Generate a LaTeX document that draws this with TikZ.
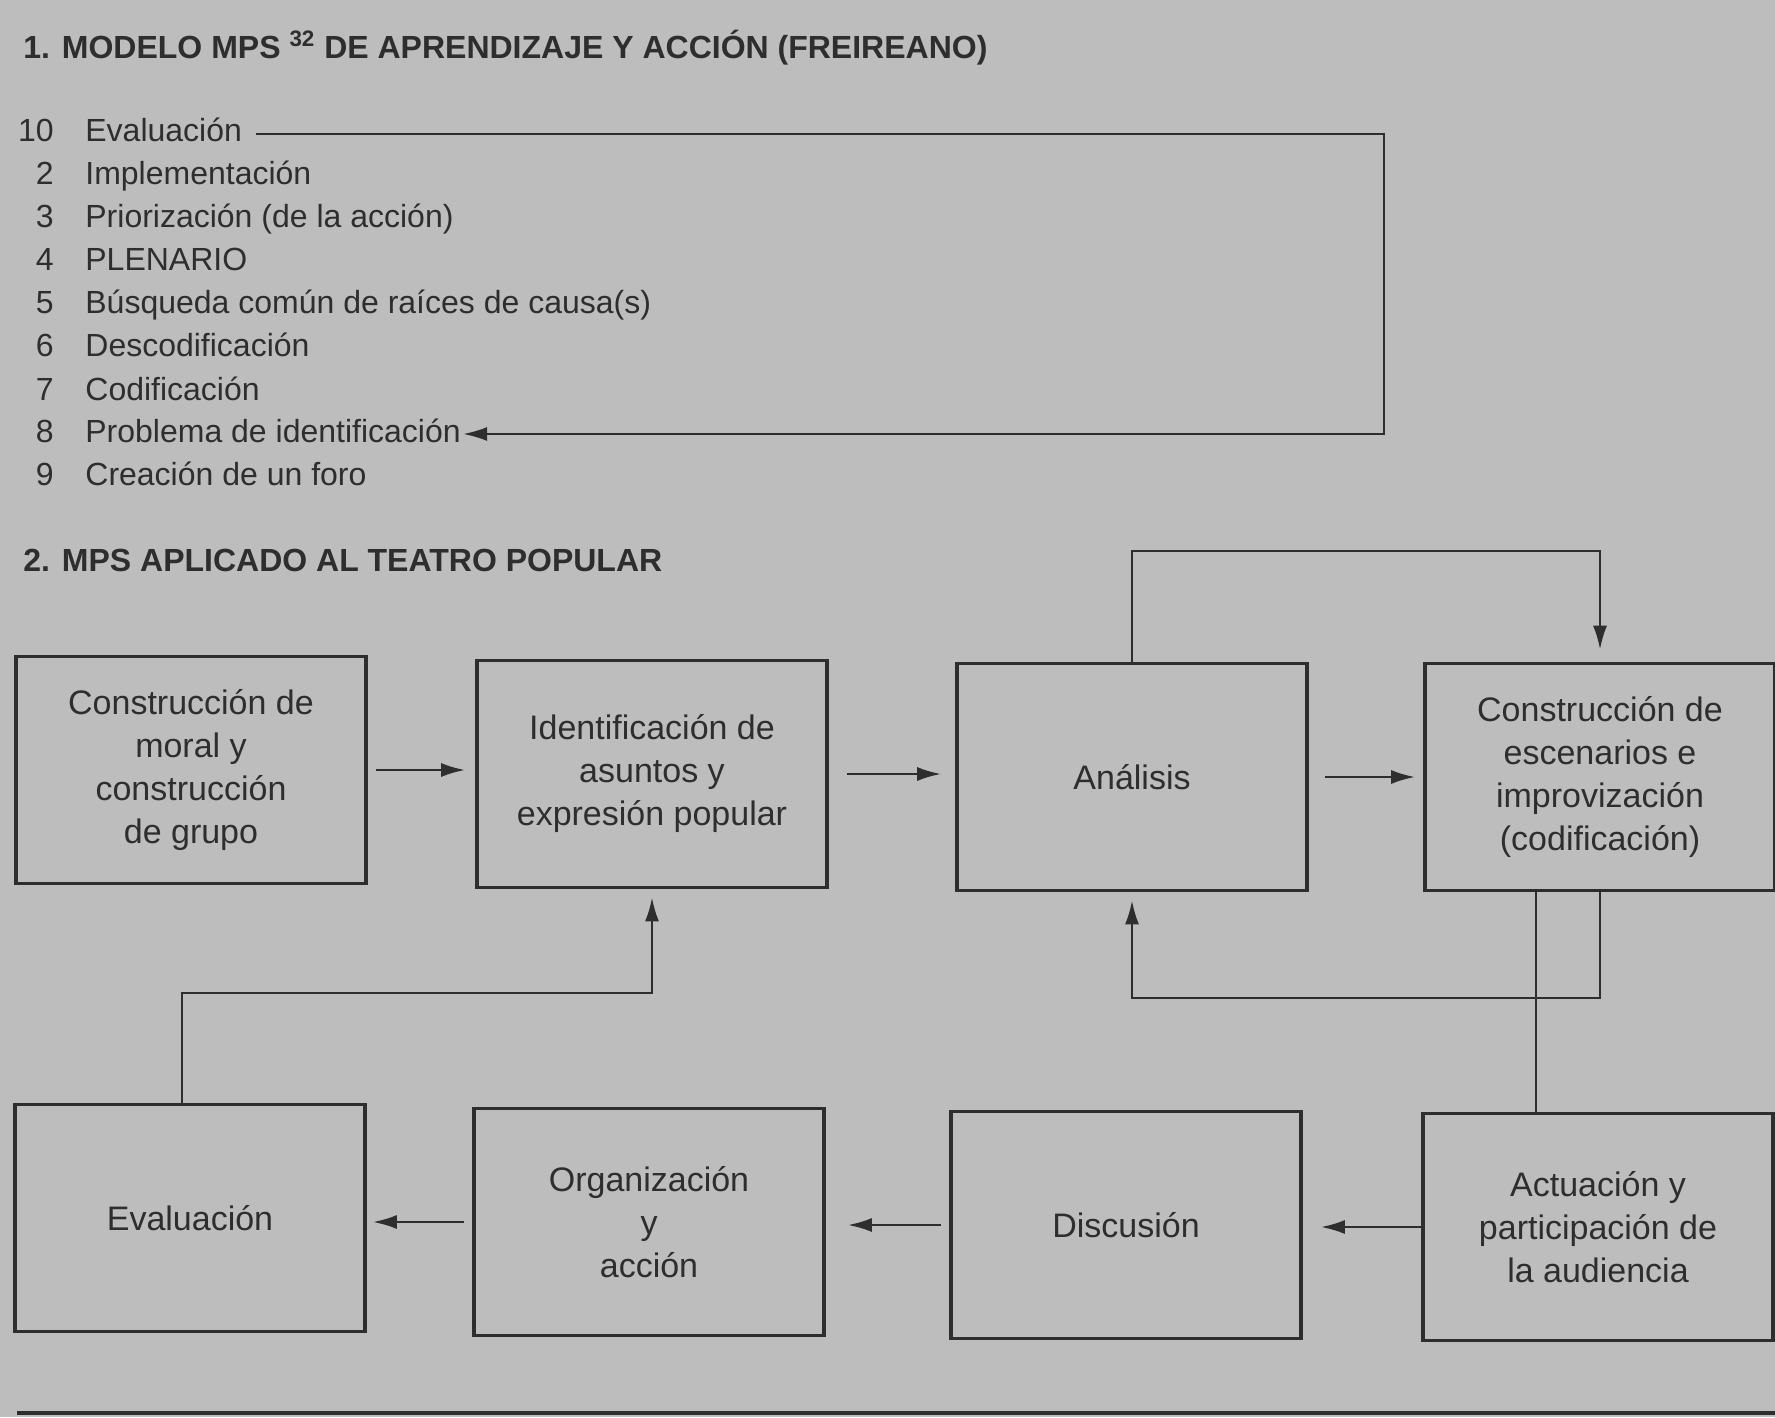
\documentclass[tikz,border=0pt]{standalone}
\usepackage{fontspec}
\setmainfont{Liberation Sans}
\usetikzlibrary{arrows.meta,positioning}
\definecolor{ink}{HTML}{2E2E2E}
\definecolor{paper}{HTML}{BDBDBD}
\tikzset{
  flow/.style={
    -{Latex[length=12pt,width=7pt]},
    draw=ink,
    line width=1.3pt
  },
  link/.style={
    draw=ink,
    line width=1.3pt
  },
  block/.style={
    rectangle,
    draw=ink,
    line width=1.8pt,
    align=center,
    text=ink,
    minimum width=175pt,
    minimum height=113.5pt,
    font=\fontsize{17}{21.5}\selectfont
  },
  title/.style={
    anchor=west,
    inner sep=0pt,
    text=ink,
    font=\bfseries\fontsize{16}{19}\selectfont
  },
  listnum/.style={
    anchor=east,
    inner sep=0pt,
    text=ink,
    text height=11.5pt,
    text depth=3.5pt,
    font=\fontsize{16}{19}\selectfont
  },
  listitem/.style={
    listnum,
    anchor=west
  }
}

\begin{document}
\begin{tikzpicture}[x=0.5pt,y=-0.5pt]
  \path[use as bounding box, fill=paper] (0,0) rectangle (1775,1417);

  % 1. modelo
  \node[title] (title1) at (23,48) {1. MODELO MPS \textsuperscript{32} DE APRENDIZAJE Y ACCIÓN (FREIREANO)};

  \node[listnum] (n10) at (54,134) {10};
  \node[listitem] (ev10) at (85,134) {Evaluación};
  \node[listnum] (n2) at (54,177) {2};
  \node[listitem] (imp2) at (85,177) {Implementación};
  \node[listnum] (n3) at (54,220) {3};
  \node[listitem] (prio3) at (85,220) {Priorización (de la acción)};
  \node[listnum] (n4) at (54,263) {4};
  \node[listitem] (plen4) at (85,263) {PLENARIO};
  \node[listnum] (n5) at (54,306) {5};
  \node[listitem] (busq5) at (85,306) {Búsqueda común de raíces de causa(s)};
  \node[listnum] (n6) at (54,349) {6};
  \node[listitem] (desc6) at (85,349) {Descodificación};
  \node[listnum] (n7) at (54,392) {7};
  \node[listitem] (cod7) at (85,392) {Codificación};
  \node[listnum] (n8) at (54,434) {8};
  \node[listitem] (prob8) at (85,434) {Problema de identificación};
  \node[listnum] (n9) at (54,477) {9};
  \node[listitem] (foro9) at (85,477) {Creación de un foro};

  \coordinate (loopx) at (1384,0);
  \draw[flow, line width=1.1pt, shorten <=7pt, shorten >=1pt] (ev10.east) -- (ev10.east -| loopx) |- (prob8.east);

  % 2. teatro popular
  \node[title] (title2) at (23,560) {2. MPS APLICADO AL TEATRO POPULAR};

  \node[block] (moral) at (191,770) {Construcción de\\moral y\\construcción\\de grupo};
  \node[block] (asuntos) at (652,774) {Identificación de\\asuntos y\\expresión popular};
  \node[block] (analisis) at (1132,777) {Análisis};
  \node[block] (escenarios) at (1600,777) {Construcción de\\escenarios e\\improvización\\(codificación)};

  \node[block] (evalua) at (190,1218) {Evaluación};
  \node[block] (organiza) at (649,1222) {Organización\\y\\acción};
  \node[block] (discusion) at (1126,1225) {Discusión};
  \node[block] (actuacion) at (1598,1227) {Actuación y\\participación de\\la audiencia};

  \draw[flow, shorten <=4pt, shorten >=5pt] (moral.east) -- (moral.east -| asuntos.west);
  \draw[flow, shorten <=9pt, shorten >=7pt] (asuntos.east) -- (asuntos.east -| analisis.west);
  \draw[flow, shorten <=8pt, shorten >=4pt] (analisis.east) -- (analisis.east -| escenarios.west);

  \draw[flow, shorten >=9pt] (actuacion.west) -- (actuacion.west -| discusion.east);
  \draw[flow, shorten <=4pt, shorten >=11pt] (discusion.west) -- (discusion.west -| organiza.east);
  \draw[flow, shorten <=4pt, shorten >=3pt] (organiza.west) -- (organiza.west -| evalua.east);

  \coordinate (topy) at (0,551);
  \coordinate (boty) at (0,998);
  \coordinate (midy) at (0,993);
  \coordinate (dropx) at (1536,0);
  \draw[flow, shorten >=6pt] (analisis.north) |- (topy -| escenarios.north) -- (escenarios.north);
  \draw[flow, shorten >=4pt] (escenarios.south) |- (boty -| analisis.south) -- (analisis.south);
  \draw[link] (escenarios.south -| dropx) -- (actuacion.north -| dropx);
  \draw[flow, shorten >=4pt] ([xshift=-4pt]evalua.north) |- (midy -| asuntos.south) -- (asuntos.south);

  \draw[link, line width=2pt] (17,1413) -- (1775,1413);
\end{tikzpicture}
\end{document}
